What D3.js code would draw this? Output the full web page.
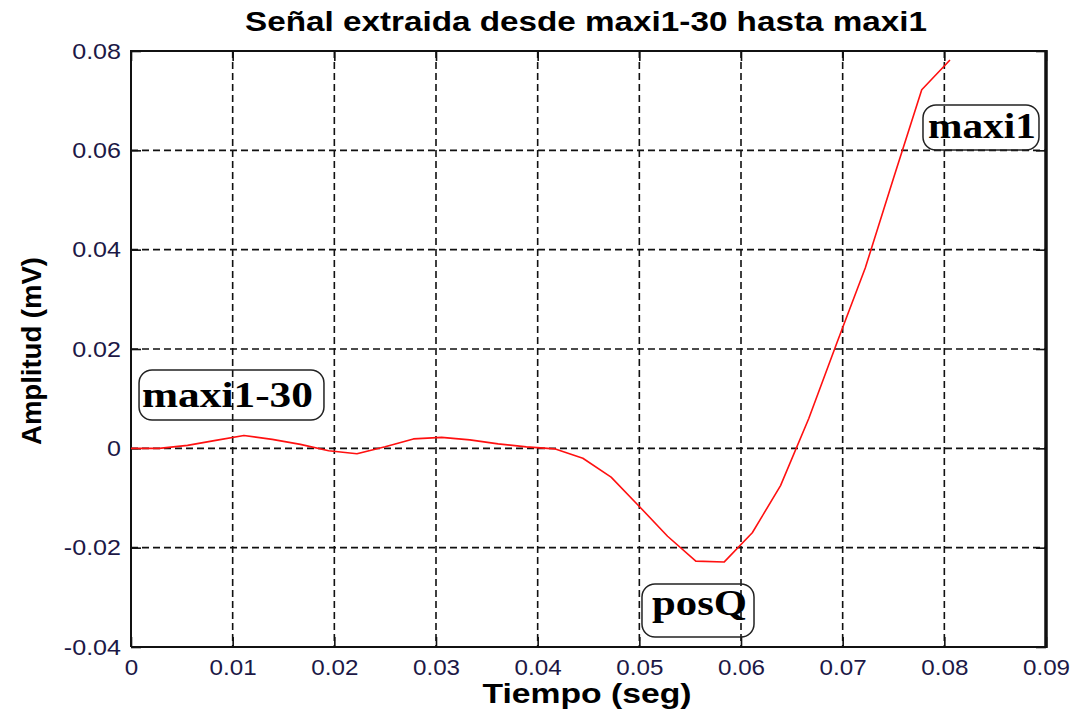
<!DOCTYPE html>
<html>
<head>
<meta charset="utf-8">
<script src="https://cdn.jsdelivr.net/npm/d3@7"></script>
<style>
  html, body { margin: 0; padding: 0; background: #fff; }
  svg { display: block; }
</style>
</head>
<body>
<svg id="chart" width="1087" height="719"></svg>
<script>
// Signal samples (360 Hz), from maxi1-30 up to maxi1
const sampleIndex = d3.range(30);
const timeSeg = sampleIndex.map(k => k / 360);
const amplitud = [
  0, 0, 0.0006, 0.0016, 0.0026, 0.0018, 0.0008, -0.0005, -0.0011, 0.0003,
  0.0019, 0.0022, 0.0017, 0.0009, 0.0003, -0.0001, -0.0020, -0.0058, -0.0117, -0.0177,
  -0.0227, -0.0229, -0.0170, -0.0075, 0.0060, 0.0213, 0.0363, 0.0544, 0.0722, 0.0782
];

// Axis ticks and their labels
const xTicks = [0, 0.01, 0.02, 0.03, 0.04, 0.05, 0.06, 0.07, 0.08, 0.09];
const xTickLabels = ["0", "0.01", "0.02", "0.03", "0.04", "0.05", "0.06", "0.07", "0.08", "0.09"];
const yTicks = [-0.04, -0.02, 0, 0.02, 0.04, 0.06, 0.08];
const yTickLabels = ["-0.04", "-0.02", "0", "0.02", "0.04", "0.06", "0.08"];

// Text callouts
const calloutLabels = ["maxi1-30", "maxi1", "posQ"];

const titleText = "Señal extraida desde maxi1-30 hasta maxi1";
const xLabelText = "Tiempo (seg)";
const yLabelText = "Amplitud (mV)";

const svg = d3.select("#chart");
const W = 1087, H = 719;
const margin = { left: 131, top: 51, right: W - 1046, bottom: H - 647 };
const x = d3.scaleLinear().domain([0, 0.09]).range([margin.left, W - margin.right]);
const y = d3.scaleLinear().domain([-0.04, 0.08]).range([H - margin.bottom, margin.top]);

svg.append("rect").attr("width", W).attr("height", H).attr("fill", "#fff");

const sans = "'Liberation Sans', Arial, sans-serif";
const serif = "'Liberation Serif', 'Times New Roman', serif";
const tickColor = "#1c1846";

// Dashed grid
const grid = svg.append("g").attr("stroke", "#111").attr("stroke-width", 1.6)
  .attr("stroke-dasharray", "7,4");
grid.selectAll("line.vx").data(xTicks.slice(1, -1)).join("line")
  .attr("x1", d => x(d)).attr("x2", d => x(d))
  .attr("y1", y(0.08)).attr("y2", y(-0.04));
grid.selectAll("line.hy").data(yTicks.slice(1, -1)).join("line")
  .attr("y1", d => y(d)).attr("y2", d => y(d))
  .attr("x1", x(0)).attr("x2", x(0.09));

// Stretch a text node horizontally by a factor
function stretch(sel, f) {
  sel.each(function () {
    const len = this.getComputedTextLength();
    d3.select(this).attr("textLength", len * f).attr("lengthAdjust", "spacingAndGlyphs");
  });
}

// Bottom axis (inward ticks)
const xAxis = svg.append("g").attr("transform", `translate(0,${y(-0.04)})`)
  .call(d3.axisBottom(x).tickValues(xTicks).tickSize(-10).tickPadding(12)
    .tickFormat((d, i) => xTickLabels[i]));
// Top axis ticks
const xTop = svg.append("g").attr("transform", `translate(0,${y(0.08)})`)
  .call(d3.axisTop(x).tickValues(xTicks).tickSize(-10).tickFormat(""));
// Left axis
const yAxis = svg.append("g").attr("transform", `translate(${x(0)},0)`)
  .call(d3.axisLeft(y).tickValues(yTicks).tickSize(-10).tickPadding(10)
    .tickFormat((d, i) => yTickLabels[i]));
// Right axis ticks
const yRight = svg.append("g").attr("transform", `translate(${x(0.09)},0)`)
  .call(d3.axisRight(y).tickValues(yTicks).tickSize(-10).tickFormat(""));

[xAxis, xTop, yAxis, yRight].forEach(g => {
  g.select(".domain").remove();
  g.selectAll(".tick line").attr("stroke", "#111").attr("stroke-width", 1.6);
});
[xAxis, yAxis].forEach(g => {
  g.selectAll(".tick text").attr("font-family", sans).attr("font-size", 22)
    .attr("fill", tickColor);
});
stretch(xAxis.selectAll(".tick text"), 1.1);
stretch(yAxis.selectAll(".tick text"), 1.14);

// Plot frame
svg.append("path")
  .attr("d", `M${x(0)},${y(-0.04)} L${x(0)},${y(0.08)} L${x(0.09)},${y(0.08)}`)
  .attr("fill", "none").attr("stroke", "#111").attr("stroke-width", 2);
svg.append("line")
  .attr("x1", x(0)).attr("x2", x(0.09)).attr("y1", y(-0.04)).attr("y2", y(-0.04))
  .attr("stroke", "#111").attr("stroke-width", 2);
svg.append("line")
  .attr("x1", x(0.09)).attr("x2", x(0.09)).attr("y1", y(0.08) - 1).attr("y2", y(-0.04) + 1)
  .attr("stroke", "#111").attr("stroke-width", 3.5);

// Signal
const line = d3.line().x((d, i) => x(timeSeg[i])).y(d => y(d));
svg.append("path").datum(amplitud)
  .attr("d", line).attr("fill", "none")
  .attr("stroke", "#ff1010").attr("stroke-width", 1.6)
  .attr("stroke-linejoin", "round");

// Callout boxes (data-space corners) with bold serif text
const calloutBoxes = [
  { x0: 0.00079, x1: 0.01898, y0: 0.00570, y1: 0.01577 },
  { x0: 0.07790, x1: 0.08931, y0: 0.06007, y1: 0.06913 },
  { x0: 0.05026, x1: 0.06128, y0: -0.03799, y1: -0.02732 }
];
const calloutText = [
  { tx: 0.00108, ty: 0.00832, w: 171 },
  { tx: 0.07839, ty: 0.06248, w: 108 },
  { tx: 0.05125, ty: -0.03356, w: 95 }
];
calloutLabels.forEach((lab, i) => {
  const b = calloutBoxes[i];
  svg.append("rect")
    .attr("x", x(b.x0)).attr("y", y(b.y1))
    .attr("width", x(b.x1) - x(b.x0)).attr("height", y(b.y0) - y(b.y1))
    .attr("rx", 13).attr("ry", 13)
    .attr("fill", "none").attr("stroke", "#222").attr("stroke-width", 1.5);
  const t = calloutText[i];
  svg.append("text")
    .attr("x", x(t.tx)).attr("y", y(t.ty))
    .attr("font-family", serif).attr("font-weight", "bold").attr("font-size", 35)
    .attr("fill", "#000")
    .attr("textLength", t.w).attr("lengthAdjust", "spacingAndGlyphs")
    .text(lab);
});

// Title and axis labels
svg.append("text")
  .attr("x", 586).attr("y", 31).attr("text-anchor", "middle")
  .attr("font-family", sans).attr("font-weight", "bold").attr("font-size", 28)
  .attr("fill", "#000")
  .attr("textLength", 682).attr("lengthAdjust", "spacingAndGlyphs")
  .text(titleText);

svg.append("text")
  .attr("x", 587).attr("y", 703).attr("text-anchor", "middle")
  .attr("font-family", sans).attr("font-weight", "bold").attr("font-size", 28)
  .attr("fill", "#000")
  .attr("textLength", 209).attr("lengthAdjust", "spacingAndGlyphs")
  .text(xLabelText);

svg.append("text")
  .attr("transform", "translate(41,351) rotate(-90)")
  .attr("text-anchor", "middle")
  .attr("font-family", sans).attr("font-weight", "bold").attr("font-size", 27)
  .attr("fill", "#000")
  .attr("textLength", 188).attr("lengthAdjust", "spacingAndGlyphs")
  .text(yLabelText);
</script>
</body>
</html>
